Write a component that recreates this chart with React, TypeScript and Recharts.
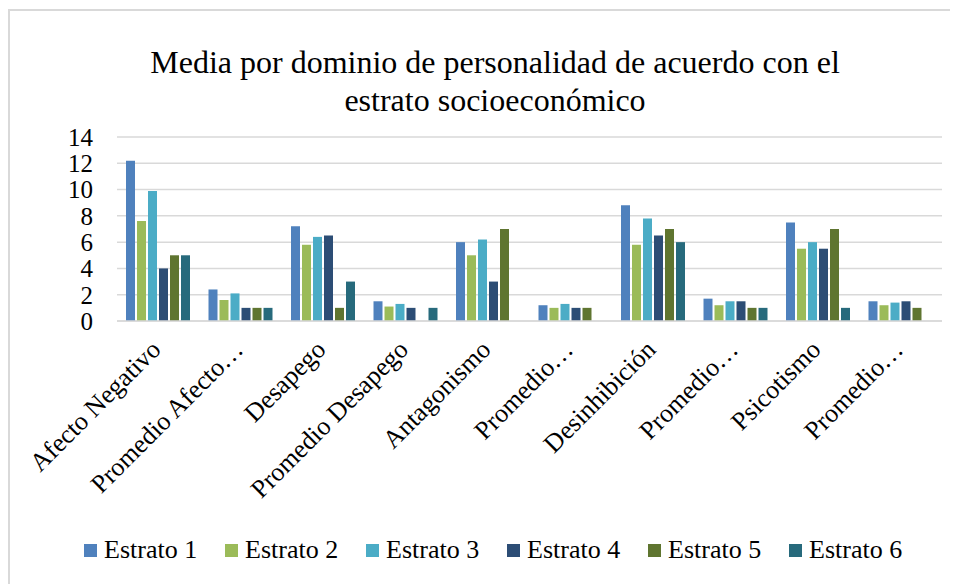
import React from "react";
import {
  BarChart,
  Bar,
  XAxis,
  YAxis,
  CartesianGrid,
} from "recharts";

const categories = [
  "Afecto Negativo",
  "Promedio Afecto Negativo",
  "Desapego",
  "Promedio Desapego",
  "Antagonismo",
  "Promedio Antagonismo",
  "Desinhibición",
  "Promedio Desinhibición",
  "Psicotismo",
  "Promedio Psicotismo",
];

// labels as they appear (truncated) under the axis
const tickLabels = [
  "Afecto Negativo",
  "Promedio Afecto…",
  "Desapego",
  "Promedio Desapego",
  "Antagonismo",
  "Promedio…",
  "Desinhibición",
  "Promedio…",
  "Psicotismo",
  "Promedio…",
];

const estrato1 = [12.2, 2.4, 7.2, 1.5, 6.0, 1.2, 8.8, 1.7, 7.5, 1.5];
const estrato2 = [7.6, 1.6, 5.8, 1.1, 5.0, 1.0, 5.8, 1.2, 5.5, 1.2];
const estrato3 = [9.9, 2.1, 6.4, 1.3, 6.2, 1.3, 7.8, 1.5, 6.0, 1.4];
const estrato4 = [4.0, 1.0, 6.5, 1.0, 3.0, 1.0, 6.5, 1.5, 5.5, 1.5];
const estrato5 = [5.0, 1.0, 1.0, null, 7.0, 1.0, 7.0, 1.0, 7.0, 1.0];
const estrato6 = [5.0, 1.0, 3.0, 1.0, null, null, 6.0, 1.0, 1.0, null];

const yTicks = [0, 2, 4, 6, 8, 10, 12, 14];

const SERIES = [
  { key: "e1", name: "Estrato 1", color: "#4F81BD", values: estrato1 },
  { key: "e2", name: "Estrato 2", color: "#9BBB59", values: estrato2 },
  { key: "e3", name: "Estrato 3", color: "#4BACC6", values: estrato3 },
  { key: "e4", name: "Estrato 4", color: "#2C4D75", values: estrato4 },
  { key: "e5", name: "Estrato 5", color: "#5F7530", values: estrato5 },
  { key: "e6", name: "Estrato 6", color: "#276A7C", values: estrato6 },
];

const data = categories.map((c, i) => {
  const row: Record<string, any> = { name: c, label: tickLabels[i] };
  SERIES.forEach((s) => {
    row[s.key] = s.values[i];
  });
  return row;
});

const FONT = "Liberation Serif, DejaVu Serif, serif";

const AngledTick = (props: any) => {
  const { x, y, index } = props;
  return (
    <g transform={`translate(${x + 4},${y + 22})`}>
      <text
        textAnchor="end"
        transform="rotate(-45)"
        style={{ fontFamily: FONT }}
        fontSize={26}
        fill="#000"
      >
        {tickLabels[index]}
      </text>
    </g>
  );
};

export default function App() {
  return (
    <div
      style={{
        position: "relative",
        width: 950,
        height: 576,
        overflow: "hidden",
        fontFamily: FONT,
        background: "#fff",
      }}
    >
      <div
        style={{
          position: "absolute",
          left: 0,
          top: 1,
          width: 1000,
          height: 600,
          borderLeft: "2px solid #D9D9D9",
          borderTop: "2px solid #D9D9D9",
        }}
      />
      <div
        style={{
          position: "absolute",
          left: 0,
          top: 35,
          width: 974,
          textAlign: "center",
          fontSize: 32,
          lineHeight: "38px",
          color: "#000",
        }}
      >
        Media por dominio de personalidad de acuerdo con el
        <br />
        estrato socioeconómico
      </div>
      <div style={{ position: "absolute", left: 0, top: 0 }}>
        <BarChart
          width={950}
          height={576}
          data={data}
          margin={{ top: 129, right: 16, bottom: 0, left: 0 }}
          barSize={9}
          barGap={2}
          style={{ fontFamily: FONT }}
        >
          <CartesianGrid vertical={false} stroke="#D9D9D9" strokeWidth={1.5} />
          <XAxis
            dataKey="name"
            height={263}
            interval={0}
            tickLine={false}
            axisLine={{ stroke: "#D9D9D9", strokeWidth: 1.5 }}
            tick={<AngledTick />}
          />
          <YAxis
            width={109}
            domain={[0, 14]}
            ticks={yTicks}
            interval={0}
            axisLine={false}
            tickLine={false}
            tickSize={0}
            tickMargin={24}
            tick={{ fontSize: 25, fill: "#000", style: { fontFamily: FONT } }}
          />
          {SERIES.map((s) => (
            <Bar
              key={s.key}
              dataKey={s.key}
              name={s.name}
              fill={s.color}
              isAnimationActive={false}
            />
          ))}
        </BarChart>
      </div>
      <div
        style={{
          position: "absolute",
          left: 76,
          top: 527,
          display: "flex",
          alignItems: "center",
          height: 30,
        }}
      >
        {SERIES.map((s) => (
          <div
            key={s.key}
            style={{
              width: 141,
              display: "flex",
              alignItems: "center",
              fontSize: 26,
              color: "#000",
              whiteSpace: "nowrap",
            }}
          >
            <span
              style={{
                display: "inline-block",
                width: 13,
                height: 13,
                background: s.color,
                marginRight: 7,
              }}
            />
            {s.name}
          </div>
        ))}
      </div>
    </div>
  );
}
